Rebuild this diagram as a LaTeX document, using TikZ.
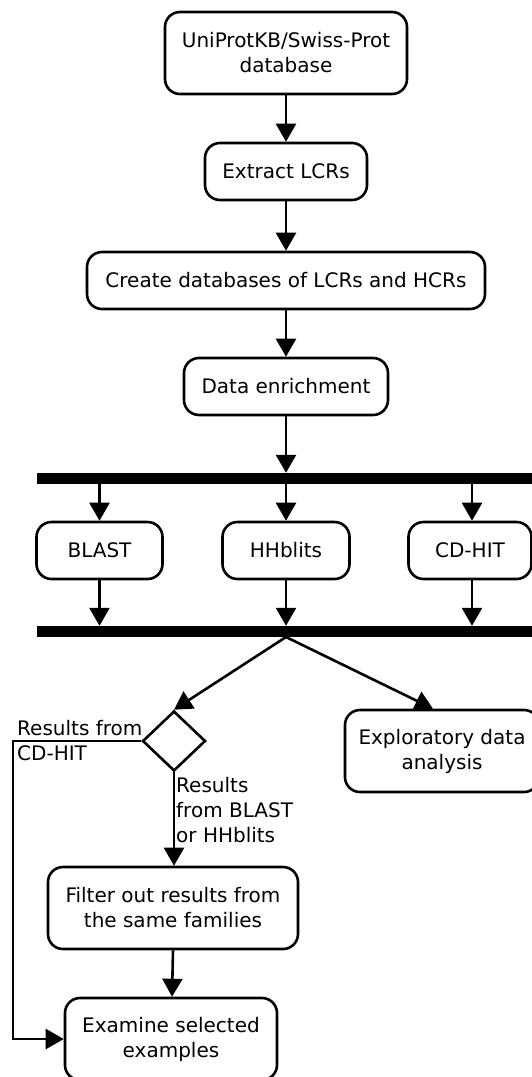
\documentclass[tikz,border=0pt]{standalone}
\usepackage{fontspec}
\setmainfont{DejaVu Sans}
\usetikzlibrary{arrows.meta,shapes.geometric}
\begin{document}
\begin{tikzpicture}[x=1pt,y=-1pt,
  every node/.style={font=\fontsize{20}{25}\selectfont},
  box/.style={draw, line width=2.6pt, rounded corners=15pt, align=center, inner sep=0pt},
  bar/.style={fill=black, inner sep=0pt, minimum height=11pt},
  flow/.style={line width=2.6pt, -{Triangle[length=18pt,width=20pt]}},
  lbl/.style={align=left, anchor=north west, inner sep=0pt}]
\useasboundingbox (0,0) rectangle (532,1077);

% main column
\node[box, minimum width=242pt, minimum height=82pt] (db) at (286,53) {UniProtKB/Swiss-Prot\\database};
\node[box, minimum width=162pt, minimum height=57pt] (extract) at (286,171.5) {Extract LCRs};
\node[box, minimum width=398pt, minimum height=57pt] (create) at (286,280.5) {Create databases of LCRs and HCRs};
\node[box, minimum width=204pt, minimum height=57pt] (enrich) at (286,386.5) {Data enrichment};

% fork / join bars
\node[bar, minimum width=503pt] (bar1) at (288.5,478.5) {};
\node[bar, minimum width=503pt] (bar2) at (288.5,631.5) {};

% tools
\node[box, minimum width=126pt, minimum height=57pt] (blast) at (99.5,550.5) {BLAST};
\node[box, minimum width=127pt, minimum height=57pt] (hhblits) at (286,550.5) {HHblits};
\node[box, minimum width=123pt, minimum height=57pt] (cdhit) at (470,550.5) {CD-HIT};

% decision and later steps
\node[draw, diamond, line width=2.6pt, minimum width=63pt, minimum height=60pt, inner sep=0pt] (dec) at (174,741) {};
\node[box, minimum width=194pt, minimum height=82pt] (explore) at (442,751) {Exploratory data\\analysis};
\node[box, minimum width=250pt, minimum height=82pt] (filter) at (173,908) {Filter out results from\\the same families};
\node[box, minimum width=212pt, minimum height=82pt] (examine) at (171,1039) {Examine selected\\examples};

% labels
\node[lbl] (lblcd) at (17,720) {Results from\\CD-HIT};
\node[lbl] (lblbh) at (176,777) {Results\\from BLAST\\or HHblits};

% helper coordinates
\coordinate (split) at (286,637);
\coordinate (exin) at ([xshift=-9pt]explore.north);
\coordinate (corner) at (13,741);

% connectors
\draw[flow] (db) -- (extract);
\draw[flow] (extract) -- (create);
\draw[flow] (create) -- (enrich);
\draw[flow] (enrich.south) -- (enrich.south |- bar1.north);
\draw[flow] (blast.north |- bar1.south) -- (blast.north);
\draw[flow] (hhblits.north |- bar1.south) -- (hhblits.north);
\draw[flow] ([xshift=2pt]cdhit.north |- bar1.south) -- ([xshift=2pt]cdhit.north);
\draw[flow] (blast.south) -- (blast.south |- bar2.north);
\draw[flow] (hhblits.south) -- (hhblits.south |- bar2.north);
\draw[flow] ([xshift=2pt]cdhit.south) -- ([xshift=2pt]cdhit.south |- bar2.north);
\draw[flow] (split) -- (dec.north);
\draw[flow] (split) -- (exin);
\draw[flow] (dec.south) -- (dec.south |- filter.north);
\draw[flow] (filter.south) -- ([xshift=1pt]examine.north);
\draw[flow] (dec.west) -- (corner) |- (examine.west);
\end{tikzpicture}
\end{document}
